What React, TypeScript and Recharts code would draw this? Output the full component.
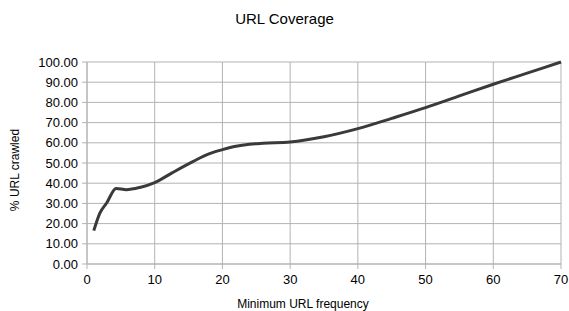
import { LineChart, Line, XAxis, YAxis, CartesianGrid, Label } from 'recharts';

const minFrequency = [1, 1.9, 2.9, 4.3, 5.8, 7.8, 10, 12.5, 15.7, 18, 20, 22, 24, 26, 30, 35, 40, 45, 50, 55, 60, 65, 70];
const pctCrawled = [16.5, 25.2, 30.2, 37.4, 36.8, 37.9, 40.3, 45, 50.8, 54.5, 56.6, 58.3, 59.3, 59.8, 60.4, 63, 67, 72.1, 77.4, 83.2, 89, 94.5, 100];
const xTicks = [0, 10, 20, 30, 40, 50, 60, 70];
const yTicks = [0, 10, 20, 30, 40, 50, 60, 70, 80, 90, 100];

const data = minFrequency.map((f, i) => ({ f, pct: pctCrawled[i] }));

const FONT = '"Liberation Sans", Arial, sans-serif';

export default function App() {
  return (
    <div style={{ position: 'absolute', left: 0, top: 0, width: 569, height: 311, background: '#fff', fontFamily: FONT }}>
      <div style={{ position: 'absolute', top: 10, width: 569, textAlign: 'center', fontSize: 15, color: '#000' }}>
        URL Coverage
      </div>
      <LineChart width={569} height={311} data={data} margin={{ top: 62, right: 8, bottom: 0, left: 0 }}>
        <CartesianGrid stroke="#b3b3b3" strokeWidth={1} vertical horizontal />
        <XAxis
          dataKey="f"
          type="number"
          domain={[0, 70]}
          ticks={xTicks}
          height={47}
          tickSize={5}
          tickMargin={6}
          stroke="#b3b3b3"
          tick={{ fill: '#000', fontSize: 13, fontFamily: FONT }}
          interval={0}
        >
          <Label value="Minimum URL frequency" position="insideBottom" offset={3} dx={-21} style={{ fill: '#000', fontSize: 12, fontFamily: FONT }} />
        </XAxis>
        <YAxis
          type="number"
          domain={[0, 100]}
          ticks={yTicks}
          width={87}
          tickSize={5}
          tickMargin={4}
          stroke="#b3b3b3"
          tickFormatter={(v: number) => v.toFixed(2)}
          tick={{ fill: '#000', fontSize: 13, fontFamily: FONT }}
          interval={0}
        >
          <Label value="% URL crawled" angle={-90} position="insideLeft" offset={15} dy={7} style={{ fill: '#000', fontSize: 12, fontFamily: FONT, textAnchor: 'middle' }} />
        </YAxis>
        <Line dataKey="pct" type="monotone" stroke="#3a3a3a" strokeWidth={3} dot={false} isAnimationActive={false} />
      </LineChart>
    </div>
  );
}
